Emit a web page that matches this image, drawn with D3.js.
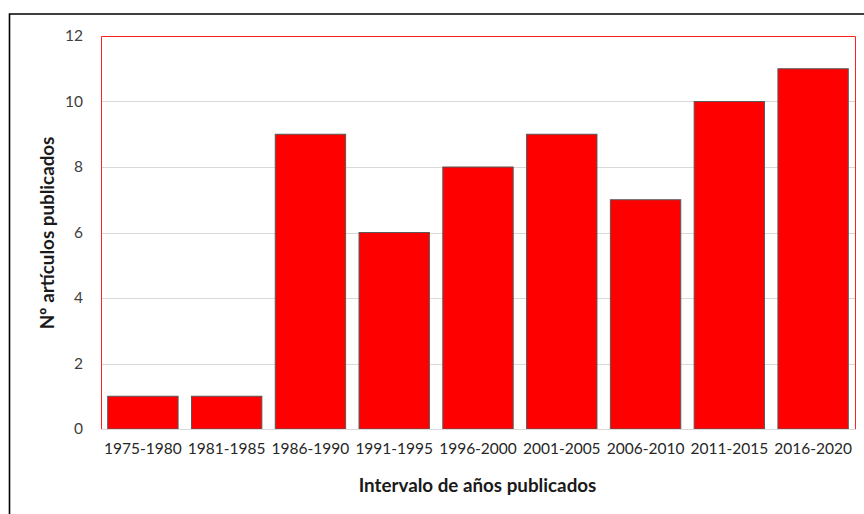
<!DOCTYPE html>
<html>
<head>
<meta charset="utf-8">
<script src="https://cdn.jsdelivr.net/npm/d3@7"></script>
<style>
  html, body { margin: 0; padding: 0; background: #fff; }
  svg { display: block; }
</style>
</head>
<body>
<svg id="chart" width="864" height="514"></svg>
<script>
// Publications per five-year interval
const categories = ["1975-1980", "1981-1985", "1986-1990", "1991-1995", "1996-2000",
                    "2001-2005", "2006-2010", "2011-2015", "2016-2020"];
const articles = [1, 1, 9, 6, 8, 9, 7, 10, 11];
const yTicks = [0, 2, 4, 6, 8, 10, 12];
const xTitle = "Intervalo de años publicados";
const yTitle = "Nº artículos publicados";

const svg = d3.select("#chart");
const font = "Lato, 'Open Sans', sans-serif";

// Outer frame (only top and left edges fall inside the view)
svg.append("path")
  .attr("d", "M9.5,520 L9.5,14 L870,14")
  .attr("fill", "none").attr("stroke", "#000").attr("stroke-width", 1.6);

const plot = { left: 101, top: 36, right: 855, bottom: 429 };

const x = d3.scaleBand()
  .domain(categories)
  .range([plot.left, plot.right])
  .paddingInner(0.16)
  .paddingOuter(0.08);

const y = d3.scaleLinear()
  .domain([0, 12])
  .range([plot.bottom, plot.top]);

// Horizontal gridlines
svg.append("g").selectAll("line")
  .data(yTicks.filter(t => t > 0 && t < 12))
  .join("line")
  .attr("x1", plot.left).attr("x2", plot.right)
  .attr("y1", d => Math.round(y(d)) + 0.5).attr("y2", d => Math.round(y(d)) + 0.5)
  .attr("stroke", "#d9d9d9").attr("stroke-width", 1);

// Bars
svg.append("g").selectAll("rect")
  .data(articles)
  .join("rect")
  .attr("x", (d, i) => x(categories[i]))
  .attr("y", d => y(d))
  .attr("width", x.bandwidth())
  .attr("height", d => y(0) - y(d))
  .attr("fill", "#ff0000")
  .attr("stroke", "#595959")
  .attr("stroke-width", 1);

// Plot-area border: red on top and sides, grey baseline
svg.append("path")
  .attr("d", `M${plot.left + 0.5},${plot.bottom} L${plot.left + 0.5},${plot.top + 0.5} L${plot.right + 0.5},${plot.top + 0.5} L${plot.right + 0.5},${plot.bottom}`)
  .attr("fill", "none").attr("stroke", "#ff2020").attr("stroke-width", 1);
svg.append("line")
  .attr("x1", plot.left).attr("x2", plot.right + 1)
  .attr("y1", plot.bottom + 0.5).attr("y2", plot.bottom + 0.5)
  .attr("stroke", "#d9d9d9").attr("stroke-width", 1.2);

// Y axis labels
const yAxis = d3.axisLeft(y).tickValues(yTicks).tickSize(0).tickPadding(18);
const gy = svg.append("g").attr("transform", `translate(${plot.left},0)`).call(yAxis);
gy.select(".domain").remove();
gy.selectAll("text")
  .attr("font-family", font).attr("font-size", 15.5).attr("fill", "#404040");

// X axis labels
const xAxis = d3.axisBottom(x).tickSize(0).tickPadding(14);
const gx = svg.append("g").attr("transform", `translate(0,${plot.bottom})`).call(xAxis);
gx.select(".domain").remove();
gx.selectAll("text")
  .attr("font-family", font).attr("font-size", 15.5).attr("fill", "#262626");

// Axis titles
svg.append("text")
  .attr("x", 477.5).attr("y", 492)
  .attr("text-anchor", "middle")
  .attr("font-family", font).attr("font-size", 18.8).attr("font-weight", "bold")
  .attr("fill", "#1a1a1a")
  .text(xTitle);

svg.append("text")
  .attr("transform", "translate(54,233) rotate(-90)")
  .attr("text-anchor", "middle")
  .attr("font-family", font).attr("font-size", 18.8).attr("font-weight", "bold")
  .attr("fill", "#1a1a1a")
  .text(yTitle);
</script>
</body>
</html>
